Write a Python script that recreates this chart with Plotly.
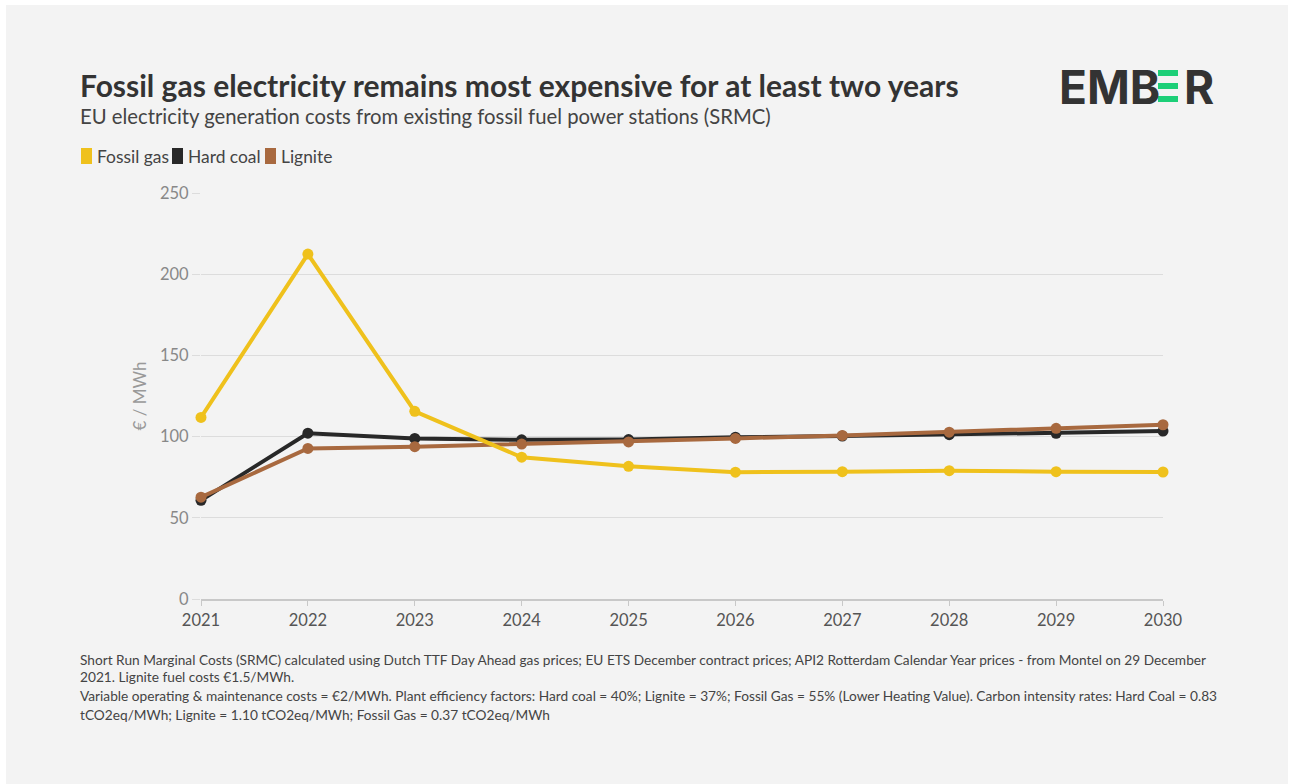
import plotly.graph_objects as go

# SRMC of existing EU fossil power stations, EUR per MWh
years = [2021, 2022, 2023, 2024, 2025, 2026, 2027, 2028, 2029, 2030]
fossil_gas = [111.8, 212.4, 115.6, 87.3, 81.7, 78.1, 78.4, 79.0, 78.4, 78.2]
hard_coal = [60.8, 102.1, 98.9, 98.0, 98.2, 99.6, 100.3, 101.2, 102.0, 103.4]
lignite = [62.7, 92.7, 93.8, 95.4, 96.7, 98.9, 100.7, 102.7, 105.1, 107.3]

series_names = ["Fossil gas", "Hard coal", "Lignite"]
series_colors = ["#EFC11C", "#282828", "#A8693F"]

title = "Fossil gas electricity remains most expensive for at least two years"
subtitle = "EU electricity generation costs from existing fossil fuel power stations (SRMC)"
y_title = "€ / MWh"
footnote_lines = [
    "Short Run Marginal Costs (SRMC) calculated using Dutch TTF Day Ahead gas prices; EU ETS December contract prices; API2 Rotterdam Calendar Year prices - from Montel on 29 December",
    "2021. Lignite fuel costs €1.5/MWh.",
    "Variable operating & maintenance costs = €2/MWh. Plant efficiency factors: Hard coal = 40%; Lignite = 37%; Fossil Gas = 55% (Lower Heating Value). Carbon intensity rates: Hard Coal = 0.83",
    "tCO2eq/MWh; Lignite = 1.10 tCO2eq/MWh; Fossil Gas = 0.37 tCO2eq/MWh",
]

W, H = 1290, 784
L, R, T, B = 201, 127, 193, 185
PW, PH = W - L - R, H - T - B
FONT = "Lato"


def px(x):
    return (x - L) / PW


def py(y):
    return (H - B - y) / PH


fig = go.Figure()

# gas drawn last so it sits over the coal/lignite lines where they cross
for name, vals, col in [
    (series_names[1], hard_coal, series_colors[1]),
    (series_names[2], lignite, series_colors[2]),
    (series_names[0], fossil_gas, series_colors[0]),
]:
    fig.add_trace(go.Scatter(
        x=years, y=vals, name=name, mode="lines+markers",
        line=dict(color=col, width=4),
        marker=dict(color=col, size=11),
        cliponaxis=False, showlegend=False,
        hovertemplate="%{x}: %{y:.1f} €/MWh<extra>" + name + "</extra>",
    ))

shapes = [
    # card background
    dict(type="rect", xref="paper", yref="paper", layer="below",
         x0=px(6), x1=px(1288), y0=py(784), y1=py(5),
         fillcolor="#f3f3f3", line=dict(width=0)),
]
annotations = []

# title block
annotations.append(dict(text="<b>" + title + "</b>", x=px(78), y=py(85), xref="paper", yref="paper",
                        xanchor="left", yanchor="middle", showarrow=False,
                        font=dict(family=FONT, size=30, color="#333333")))
annotations.append(dict(text=subtitle, x=px(78), y=py(116), xref="paper", yref="paper",
                        xanchor="left", yanchor="middle", showarrow=False,
                        font=dict(family=FONT, size=20.3, color="#444444")))

# legend: colour chip followed by the series label
legend_x = [(81, 95), (172, 186), (265, 279)]
for (cx, tx), name, col in zip(legend_x, series_names, series_colors):
    shapes.append(dict(type="rect", xref="paper", yref="paper",
                       x0=px(cx), x1=px(cx + 11), y0=py(164), y1=py(148),
                       fillcolor=col, line=dict(width=0)))
    annotations.append(dict(text=name, x=px(tx), y=py(156), xref="paper", yref="paper",
                            xanchor="left", yanchor="middle", showarrow=False,
                            font=dict(family=FONT, size=17.4, color="#444444")))

# logo
annotations.append(dict(text="<b>EMB</b>", x=px(1057), y=py(87), xref="paper", yref="paper",
                        xanchor="left", yanchor="middle", showarrow=False,
                        font=dict(family="Inter", size=46, color="#333333")))
annotations.append(dict(text="<b>R</b>", x=px(1182), y=py(87), xref="paper", yref="paper",
                        xanchor="left", yanchor="middle", showarrow=False,
                        font=dict(family="Inter", size=46, color="#333333")))
for y0 in (70, 83, 96):
    shapes.append(dict(type="rect", xref="paper", yref="paper",
                       x0=px(1158), x1=px(1178), y0=py(y0 + 6), y1=py(y0),
                       fillcolor="#1DCF78", line=dict(width=0)))

# footnote
for i, (line, yy) in enumerate(zip(footnote_lines, [659, 676, 695, 714])):
    annotations.append(dict(text=line, x=px(78), y=py(yy), xref="paper", yref="paper",
                            xanchor="left", yanchor="middle", showarrow=False,
                            font=dict(family=FONT, size=13.7, color="#444444")))

fig.update_layout(
    width=W, height=H,
    margin=dict(l=L, r=R, t=T, b=B, pad=0),
    paper_bgcolor="white",
    plot_bgcolor="rgba(0,0,0,0)",
    font=dict(family=FONT),
    showlegend=False,
    shapes=shapes,
    annotations=annotations,
    xaxis=dict(
        range=[2021, 2030], tickmode="array", tickvals=years, ticktext=[str(y) for y in years],
        showgrid=False, zeroline=False,
        showline=True, linecolor="#c8c8c8", linewidth=1.5,
        ticks="outside", ticklen=5, tickcolor="#c8c8c8",
        tickfont=dict(family=FONT, size=16.5, color="#555555"),
    ),
    yaxis=dict(
        range=[0, 250], dtick=50, showgrid=True, gridcolor="#dcdcdc", gridwidth=1,
        zeroline=False, showline=False,
        ticks="outside", ticklen=8, tickcolor="#dcdcdc",
        tickfont=dict(family=FONT, size=16.5, color="#888888"),
        title=dict(text=y_title, standoff=9, font=dict(family=FONT, size=17, color="#999999")),
    ),
)

fig.write_html("out.html")
